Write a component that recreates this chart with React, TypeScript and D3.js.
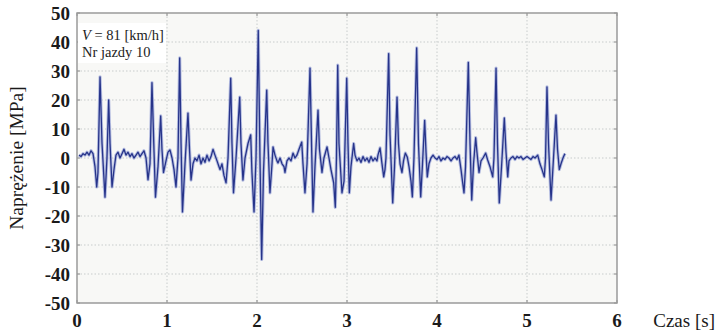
import React, { useEffect, useRef } from 'react';
import * as d3 from 'd3';

// time [s] and stress [MPa] (one row per stretch of the record)
const timeS = [
  0.022, 0.044, 0.067, 0.089, 0.111, 0.133, 0.156, 0.178, 0.200,
  0.219, 0.233, 0.256, 0.278, 0.311, 0.333, 0.352, 0.367, 0.389, 0.411, 0.433,
  0.456, 0.478, 0.500, 0.522, 0.544, 0.567, 0.589, 0.611, 0.633, 0.656, 0.678, 0.700, 0.722, 0.744, 0.767,
  0.789, 0.811, 0.833, 0.856, 0.872, 0.900, 0.930, 0.944, 0.961, 0.989, 1.011, 1.033, 1.056, 1.078, 1.100,
  1.122, 1.141, 1.156, 1.172, 1.200, 1.233, 1.250, 1.267, 1.289,
  1.311, 1.333, 1.356, 1.378, 1.400, 1.422, 1.444, 1.467, 1.489, 1.511, 1.533, 1.556, 1.578,
  1.589, 1.611, 1.633, 1.656, 1.678, 1.708, 1.722, 1.739, 1.767, 1.808, 1.822, 1.844, 1.867,
  1.900, 1.930, 1.944, 1.967, 1.989, 2.014, 2.033, 2.052, 2.072, 2.108, 2.122, 2.144, 2.167, 2.178, 2.200,
  2.222, 2.233, 2.256, 2.278, 2.300, 2.311, 2.333, 2.356, 2.378, 2.400, 2.422, 2.444, 2.467, 2.497, 2.511,
  2.533, 2.556, 2.589, 2.606, 2.622, 2.644, 2.678, 2.694, 2.719, 2.722, 2.744, 2.778, 2.800, 2.822,
  2.852, 2.870, 2.883, 2.897, 2.911, 2.944, 2.967, 2.997, 3.011, 3.026, 3.044, 3.074, 3.089,
  3.111, 3.133, 3.156, 3.178, 3.200, 3.222, 3.244, 3.267, 3.289, 3.311, 3.333, 3.344,
  3.367, 3.389, 3.408, 3.422, 3.433, 3.463, 3.478, 3.508, 3.528, 3.556, 3.572, 3.589, 3.611, 3.628, 3.648,
  3.670, 3.689, 3.711, 3.726, 3.744, 3.774, 3.794, 3.819, 3.839, 3.863, 3.878, 3.892, 3.911, 3.933,
  3.956, 3.978, 4.000, 4.022, 4.044, 4.067, 4.089, 4.111, 4.133, 4.156, 4.178, 4.200, 4.222, 4.244,
  4.267, 4.283, 4.300, 4.317, 4.348, 4.367, 4.386, 4.406, 4.430, 4.444, 4.467, 4.489, 4.511, 4.541,
  4.563, 4.589, 4.619, 4.633, 4.656, 4.672, 4.692, 4.717, 4.748, 4.767, 4.786, 4.800, 4.822,
  4.844, 4.867, 4.889, 4.911, 4.933, 4.956, 4.978, 5.000, 5.022, 5.044, 5.067, 5.089, 5.119,
  5.144, 5.167, 5.192, 5.206, 5.222, 5.239, 5.267, 5.289, 5.322, 5.339, 5.359, 5.378, 5.400, 5.414, 5.422,
];
const stressMPa = [
  1, 0.5, 1.5, 1, 2, 1, 2.5, 1.5, -3,
  -10, -5, 28, 5, -13.5, 0, 20, 5, -10, -4, 1,
  2, 0, 1.5, 3, 1, 2, 0.5, 1.5, 0, 1, 2, 0.5, 1.5, 2.5, 0,
  -7.5, -2, 26, 2, -13.5, -3, 14.5, 3, -5, -1, 2, 2.8, 0, -4, -10,
  0, 34.5, 5, -18.6, -2, 15.5, 3, -7.6, -2,
  0, -1, 1, -2, 0, -1.5, 1, -1, 0.5, 3, 1, -1, -3,
  -4, -2, -6, -8.6, 0, 27.5, 5, -12, 0, 21, 5, -7.6, 0,
  5, 8, -5, -18.6, 0, 44, 0, -35, -5, 23.4, 5, -12, -2, 3.8, 1,
  -1, -1.7, 0, -2, -3, -5, -1, 0, -1, 1.7, 0, 1, 3, 5.5, -2,
  -12, -2, 31, 5, -18.6, -3, 16.5, 3, -4, -5, 0, 3.8, 0, -4,
  -8.6, -17, 0, 32, 5, -12, -8, 27.5, 5, -12, -3, 5, 1,
  -1, 0, -1.5, 0.5, -1, 0, -1.5, 0.5, -1, 0, -1, 1,
  3.5, -2, -6.5, -4, 0, 36, 8, -15.5, -3, 21, 5, -2, -5, -1, 1.7,
  0.3, -3, -8, -13.4, 0, 38, 5, -13.4, -2, 13, 2, -6.5, -2, 0,
  1, 0, -0.5, 0.5, -1, 0, -0.5, 0.5, 0, -1, 0, 0.5, -0.5, 1,
  -4, -8, -12, -3, 33, 5, -14.5, -2, 7, 2, -5, -1, 0, 1.7,
  -0.7, -3, -6.5, 0, 31, 5, -15.5, -3, 13.8, 2, -6.5, -1, 0,
  0.5, -0.5, 0.5, 0, 0.5, -0.5, 0, 0.5, 0, -0.5, 0.5, 0, 1,
  -2, -4, -6.5, 0, 24.5, 5, -14.5, -3, 14.8, 3, -4, -2, 0, 1, 1.5,
];
const xTicks = [0, 1, 2, 3, 4, 5, 6];
const yTicks = [-50, -40, -30, -20, -10, 0, 10, 20, 30, 40, 50];

const W = 721;
const H = 333;
const margin = { top: 13, right: 104, bottom: 30, left: 77 };

export default function App() {
  const ref = useRef<SVGSVGElement>(null);

  useEffect(() => {
    const svg = d3.select(ref.current);
    svg.selectAll('*').remove();

    const iw = W - margin.left - margin.right;
    const ih = H - margin.top - margin.bottom;

    const x = d3.scaleLinear().domain([0, 6]).range([0, iw]);
    const y = d3.scaleLinear().domain([-50, 50]).range([ih, 0]);

    const g = svg.append('g')
      .attr('transform', `translate(${margin.left},${margin.top})`);

    g.append('rect')
      .attr('width', iw).attr('height', ih)
      .attr('fill', '#f8f8f6');

    // grid
    g.selectAll('.gx').data(xTicks.slice(1, -1)).enter().append('line')
      .attr('x1', d => x(d)).attr('x2', d => x(d))
      .attr('y1', 0).attr('y2', ih)
      .attr('stroke', '#c8cccc').attr('stroke-width', 1)
      .attr('stroke-dasharray', '1.5,2');
    g.selectAll('.gy').data(yTicks.slice(1, -1)).enter().append('line')
      .attr('x1', 0).attr('x2', iw)
      .attr('y1', d => y(d)).attr('y2', d => y(d))
      .attr('stroke', '#c8cccc').attr('stroke-width', 1)
      .attr('stroke-dasharray', '1.5,2');

    // inner tick marks
    g.selectAll('.tx').data(xTicks).enter().append('line')
      .attr('x1', d => x(d)).attr('x2', d => x(d))
      .attr('y1', ih).attr('y2', ih - 3)
      .attr('stroke', '#888');
    g.selectAll('.tx2').data(xTicks).enter().append('line')
      .attr('x1', d => x(d)).attr('x2', d => x(d))
      .attr('y1', 0).attr('y2', 3)
      .attr('stroke', '#888');
    g.selectAll('.ty').data(yTicks).enter().append('line')
      .attr('x1', iw).attr('x2', iw - 3)
      .attr('y1', d => y(d)).attr('y2', d => y(d))
      .attr('stroke', '#888');
    g.selectAll('.ty2').data(yTicks).enter().append('line')
      .attr('x1', 0).attr('x2', 3)
      .attr('y1', d => y(d)).attr('y2', d => y(d))
      .attr('stroke', '#888');

    // annotation box
    g.append('rect')
      .attr('x', 1).attr('y', 10).attr('width', 88).attr('height', 40)
      .attr('fill', '#ffffff');
    const note = g.append('text')
      .attr('x', 5).attr('y', 27)
      .attr('font-family', 'Liberation Serif, serif')
      .attr('font-size', 14.5).attr('fill', '#222');
    note.append('tspan').attr('font-style', 'italic').text('V');
    note.append('tspan').text(' = 81 [km/h]');
    g.append('text')
      .attr('x', 5).attr('y', 44)
      .attr('font-family', 'Liberation Serif, serif')
      .attr('font-size', 14.5).attr('fill', '#222')
      .text('Nr jazdy 10');

    // signal
    const pts = timeS.map((t, i) => [t, stressMPa[i]] as [number, number]);
    const line = d3.line<[number, number]>()
      .x(d => x(d[0])).y(d => y(d[1]));
    g.append('path').datum(pts)
      .attr('d', line)
      .attr('fill', 'none')
      .attr('stroke', '#aab4dd').attr('stroke-width', 3.2)
      .attr('stroke-linejoin', 'round')
      .attr('opacity', 0.85);
    g.append('path').datum(pts)
      .attr('d', line)
      .attr('fill', 'none')
      .attr('stroke', '#27348a').attr('stroke-width', 1.3)
      .attr('stroke-linejoin', 'round');

    // frame
    g.append('rect')
      .attr('width', iw).attr('height', ih)
      .attr('fill', 'none')
      .attr('stroke', '#9a9a9a').attr('stroke-width', 1.5);

    // tick labels
    const font = 'Liberation Serif, serif';
    g.selectAll('.lx').data(xTicks).enter().append('text')
      .attr('x', d => x(d)).attr('y', ih + 24)
      .attr('text-anchor', 'middle')
      .attr('font-family', font).attr('font-size', 19)
      .attr('font-weight', 600).attr('fill', '#1a1a1a')
      .text(d => d);
    g.selectAll('.ly').data(yTicks).enter().append('text')
      .attr('x', -7).attr('y', d => y(d) + 6.5)
      .attr('text-anchor', 'end')
      .attr('font-family', font).attr('font-size', 19)
      .attr('font-weight', 600).attr('fill', '#1a1a1a')
      .text(d => d);

    svg.append('text')
      .attr('x', 715).attr('y', H - 6)
      .attr('text-anchor', 'end')
      .attr('font-family', font).attr('font-size', 19)
      .attr('fill', '#1a1a1a')
      .text('Czas [s]');

    svg.append('text')
      .attr('transform', `translate(23,${margin.top + y(0)}) rotate(-90)`)
      .attr('text-anchor', 'middle')
      .attr('font-family', font).attr('font-size', 19.5)
      .attr('fill', '#1a1a1a')
      .text('Naprężenie [MPa]');
  }, []);

  return (
    <svg ref={ref} width={W} height={H}
      style={{ position: 'absolute', left: 0, top: 0, background: '#fff' }} />
  );
}
